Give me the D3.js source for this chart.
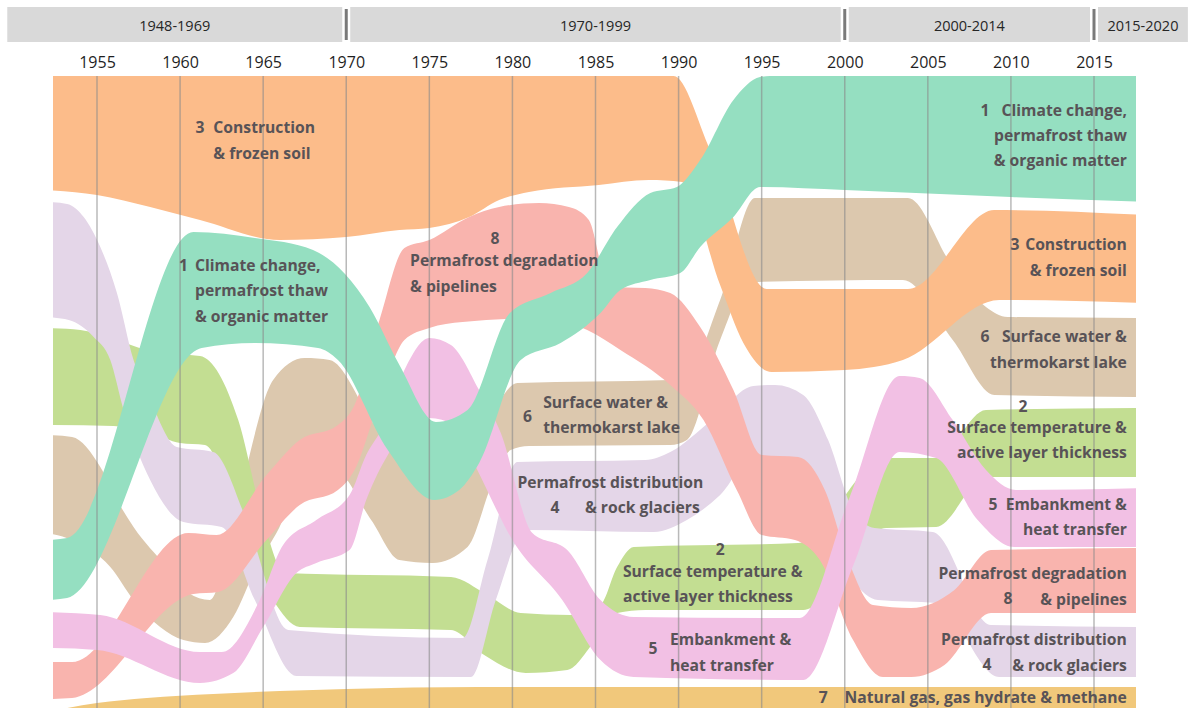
<!DOCTYPE html>
<html>
<head>
<meta charset="utf-8">
<script src="https://cdn.jsdelivr.net/npm/d3@7"></script>
<style>
    body { margin: 0; background: #fff; }
    svg { display: block; font-family: "Open Sans", "Noto Sans", sans-serif; }
</style>
</head>
<body>
<div id="chart"></div>
<script>
// tick years along the top, and the four period bars above them
const tickYears = [1955, 1960, 1965, 1970, 1975, 1980, 1985, 1990, 1995, 2000, 2005, 2010, 2015];
const periodLabels = ["1948-1969", "1970-1999", "2000-2014", "2015-2020"];
const periodBreaks = [1949.6, 1970, 2000, 2015, 2020.65];

// band edges as [year, depth]; depth counts down from the top of the plot
const climateTop = [[1952.0, 464], [1953.2, 462], [1960.8, 156], [1964.5, 162], [1968.0, 174], [1971.4, 231], [1973.2, 289], [1975.4, 346], [1977.3, 334], [1979.85, 237], [1982.3, 217], [1984.5, 197], [1986.3, 151], [1988.3, 117], [1989.9, 111], [1991.3, 84], [1993.3, 24], [1994.9, 1], [1995.5, 0], [2018.2, 0]];
const climateBottom = [[1952.0, 524], [1953.2, 522], [1961.3, 272], [1964.5, 267], [1968.3, 272], [1969.5, 284], [1972.5, 374], [1975.3, 424], [1976.8, 414], [1978.0, 387], [1980.5, 284], [1982.9, 267], [1985.3, 237], [1986.5, 214], [1988.3, 204], [1990.1, 197], [1991.3, 171], [1993.3, 141], [1994.9, 111], [2000, 114], [2010, 121], [2018.2, 126]];

const tempTop = [[1952.0, 252], [1954, 254], [1958.8, 277], [1961.2, 280], [1963.5, 344], [1965, 444], [1966.3, 497], [1976.3, 501], [1978.5, 519], [1980.5, 537], [1983.5, 539], [1985.3, 529], [1986.3, 491], [1987.3, 471], [1997.2, 467], [2002.5, 382], [2005.5, 382], [2008.5, 334], [2018.2, 332]];
const tempBottom = [[1952.0, 349], [1956, 350], [1958.2, 357], [1960, 367], [1961.5, 369], [1963.5, 444], [1965.6, 524], [1967.2, 551], [1976.3, 554], [1978.3, 579], [1980.8, 597], [1983.3, 594], [1985, 564], [1986.3, 537], [1988, 534], [1997.5, 534], [2002.5, 452], [2005.5, 451], [2008.5, 401], [2018.2, 401]];

const constructionTop = [[1952.0, 0], [1989.7, 0], [1991.9, 74], [1995.3, 213], [2003.8, 213], [2009.0, 134], [2018.2, 139]];
const constructionBottom = [[1952.0, 114], [1955, 119], [1958.2, 131], [1961.2, 144], [1966, 164], [1970, 161], [1973.2, 154], [1975, 152], [1977.4, 141], [1979.2, 124], [1981, 116], [1985.2, 109], [1988.2, 104], [1990.2, 106], [1992.5, 209], [1993.9, 267], [1995.6, 296], [2000, 294], [2003.5, 284], [2009.3, 224], [2018.2, 227]];

const distributionTop = [[1952.0, 126], [1953.2, 128], [1954.2, 141], [1955.2, 171], [1956.2, 217], [1957.2, 284], [1958.2, 324], [1959.8, 371], [1962, 376], [1964, 444], [1966.5, 554], [1977, 562], [1978.5, 484], [1980.3, 386], [1988, 384], [1989.5, 376], [1992, 344], [1994.5, 310], [1995.8, 309], [1997.5, 319], [1999, 364], [2000.5, 434], [2001.8, 452], [2005.3, 456], [2008.8, 549], [2018.2, 551]];
const distributionBottom = [[1952.0, 241], [1953.3, 244], [1954.8, 261], [1955.8, 284], [1956.6, 334], [1958.2, 404], [1960.2, 446], [1962.5, 451], [1964.5, 524], [1967, 600], [1977.5, 601], [1979, 524], [1980.8, 454], [1988.5, 456], [1990.5, 444], [1992.5, 419], [1994.5, 381], [1996.5, 382], [1998.5, 424], [2000.5, 504], [2002, 524], [2005.5, 527], [2009.3, 601], [2018.2, 601]];

const embankmentTop = [[1952.0, 536], [1955.2, 539], [1961.2, 576], [1962.5, 576], [1964.8, 524], [1966.2, 469], [1968.2, 444], [1970.2, 419], [1971.2, 379], [1972.2, 351], [1973.5, 294], [1975, 262], [1976.3, 269], [1978, 314], [1979.3, 357], [1981.2, 457], [1983.3, 474], [1985.3, 524], [1987.3, 541], [1997.3, 542], [2000.3, 421], [2003.3, 300], [2004.5, 302], [2006.5, 344], [2008.5, 394], [2010.3, 414], [2018.2, 412]];
const embankmentBottom = [[1952.0, 572], [1955, 574], [1961.2, 607], [1963.2, 597], [1965, 551], [1967, 497], [1968.2, 487], [1970.2, 474], [1971.2, 424], [1972.5, 379], [1975, 342], [1976.5, 349], [1977.8, 391], [1980, 464], [1983, 524], [1985.3, 584], [1987.3, 601], [1997.5, 604], [2000.5, 490], [2003.3, 376], [2005.5, 382], [2008, 444], [2010.2, 471], [2018.2, 471]];

const lakeTop = [[1952.0, 359], [1953.5, 361], [1955.2, 391], [1956.2, 424], [1957.2, 451], [1959.2, 491], [1960.5, 517], [1961.8, 524], [1963.5, 424], [1965.6, 304], [1967.5, 282], [1969, 284], [1971.5, 344], [1973.5, 394], [1975.5, 414], [1978.5, 344], [1980.3, 307], [1989.5, 304], [1990.5, 299], [1992.5, 224], [1994.6, 122], [2003.8, 122], [2006.5, 191], [2008.5, 231], [2009.8, 241], [2018.2, 242]];
const lakeBottom = [[1952.0, 457], [1953.5, 464], [1955.8, 491], [1957.2, 524], [1958.8, 551], [1960.2, 564], [1961.5, 567], [1963.2, 541], [1964.6, 491], [1965.8, 457], [1967.8, 394], [1969.3, 394], [1971.5, 444], [1973.2, 484], [1975.2, 487], [1977.3, 471], [1978.8, 407], [1979.9, 374], [1981, 370], [1989.5, 369], [1990.5, 364], [1992.5, 264], [1994.3, 206], [2003.5, 204], [2006.5, 264], [2009, 319], [2018.2, 321]];

const gasTop = [[1952.0, 636], [1955, 627], [1958, 622], [1962, 618], [1966, 615], [1970, 613], [1978, 611], [2018.2, 611]];
const gasBottom = [[1952.0, 640], [2018.2, 640]];

const degradationTop = [[1952.0, 586], [1953.5, 586], [1960.5, 457], [1962.2, 459], [1965.2, 399], [1967.2, 364], [1969.5, 349], [1970.5, 329], [1972, 244], [1973.5, 172], [1975, 164], [1977.4, 141], [1979.2, 131], [1981.6, 127], [1983.4, 131], [1984.6, 144], [1985.8, 211], [1988, 212], [1989.5, 217], [1991.3, 251], [1993.3, 314], [1995, 379], [1997.2, 381], [1998.8, 414], [2000.2, 484], [2001.7, 529], [2004, 532], [2006.6, 514], [2008.8, 474], [2018.2, 472]];
const degradationBottom = [[1952.0, 623], [1953.5, 622], [1960.8, 518], [1962.3, 516], [1965.2, 464], [1967.2, 429], [1969.5, 414], [1970.5, 394], [1972, 324], [1973.5, 264], [1975, 252], [1977, 246], [1982, 242], [1984.5, 254], [1986.5, 274], [1989.5, 309], [1991.5, 344], [1993.5, 414], [1995, 459], [1997, 464], [1998.5, 484], [2000.5, 564], [2002.3, 601], [2004, 601], [2006, 589], [2008.8, 537], [2018.2, 537]];

// drawn bottom layer first
const topics = [
    {id: 7, color: "#f1c87b", top: gasTop, bottom: gasBottom},
    {id: 6, color: "#dcc8ae", top: lakeTop, bottom: lakeBottom},
    {id: 2, color: "#c3de92", top: tempTop, bottom: tempBottom},
    {id: 4, color: "#e4d6e8", top: distributionTop, bottom: distributionBottom},
    {id: 8, color: "#f9b4ae", top: degradationTop, bottom: degradationBottom},
    {id: 3, color: "#fcbc8a", top: constructionTop, bottom: constructionBottom},
    {id: 5, color: "#f2c0e4", top: embankmentTop, bottom: embankmentBottom},
    {id: 1, color: "#95dfc1", top: climateTop, bottom: climateBottom}
];

// annotation lines: text, year, depth, anchor
const labels = [
    ["3", 1961.2, 51, "middle"], ["Construction", 1962.0, 51, "start"], ["& frozen soil", 1962.0, 77, "start"],
    ["1", 1960.2, 189, "middle"], ["Climate change,", 1960.9, 189, "start"], ["permafrost thaw", 1960.9, 214, "start"], ["& organic matter", 1960.9, 240, "start"],
    ["8", 1978.95, 162, "middle"], ["Permafrost degradation", 1973.84, 184, "start"], ["& pipelines", 1973.84, 210, "start"],
    ["6", 1980.9, 340, "middle"], ["Surface water &", 1981.85, 326, "start"], ["thermokarst lake", 1981.85, 351, "start"],
    ["Permafrost distribution", 1980.3, 406, "start"], ["4", 1982.56, 431, "middle"], ["& rock glaciers", 1984.37, 431, "start"],
    ["2", 1992.5, 473, "middle"], ["Surface temperature &", 1986.65, 495, "start"], ["active layer thickness", 1986.65, 520, "start"],
    ["5", 1988.46, 572, "middle"], ["Embankment &", 1989.48, 563, "start"], ["heat transfer", 1989.48, 589, "start"],

    ["1", 2008.44, 34, "middle"], ["Climate change,", 2016.98, 34, "end"], ["permafrost thaw", 2016.98, 59, "end"], ["& organic matter", 2016.98, 84, "end"],
    ["3", 2010.24, 168, "middle"], ["Construction", 2016.98, 168, "end"], ["& frozen soil", 2016.98, 194, "end"],
    ["6", 2008.44, 260, "middle"], ["Surface water &", 2016.98, 260, "end"], ["thermokarst lake", 2016.98, 286, "end"],
    ["2", 2010.73, 330, "middle"], ["Surface temperature &", 2016.98, 351, "end"], ["active layer thickness", 2016.98, 376, "end"],
    ["5", 2008.92, 428, "middle"], ["Embankment &", 2016.98, 428, "end"], ["heat transfer", 2016.98, 453, "end"],
    ["Permafrost degradation", 2016.98, 497, "end"], ["8", 2009.82, 522, "middle"], ["& pipelines", 2016.98, 523, "end"],
    ["Permafrost distribution", 2016.98, 563, "end"], ["4", 2008.56, 588, "middle"], ["& rock glaciers", 2016.98, 589, "end"],
    ["7", 1998.7, 621, "middle"], ["Natural gas, gas hydrate & methane", 2016.98, 621, "end"]
];

class BumpChart {

    width = 1190;
    height = 708;
    plot = {left: 53, right: 1136, top: 76, bottom: 708};

    svg; x; y;

    constructor(container) {
        this.container = container;
    }

    draw() {
        this._setSvg();
        this._setScales();
        this._drawHeader();
        this._drawTicks();
        this._drawBands();
        this._drawGrid();
        this._drawLabels();
    }

    _setSvg() {
        this.svg = d3.select(this.container)
            .append("svg")
            .attr("width", this.width)
            .attr("height", this.height);

        this.svg.append("defs").append("clipPath")
            .attr("id", "plot-clip")
            .append("rect")
            .attr("x", this.plot.left)
            .attr("y", this.plot.top)
            .attr("width", this.plot.right - this.plot.left)
            .attr("height", this.plot.bottom - this.plot.top);
    }

    _setScales() {
        this.x = d3.scaleLinear().domain([1955, 2015]).range([97, 1094]);
        this.y = d3.scaleLinear().domain([0, 632]).range([this.plot.top, this.plot.bottom]);
    }

    _drawHeader() {
        let x = this.x;
        let header = this.svg.append("g").attr("id", "periods");
        let last = periodLabels.length - 1;

        periodLabels.forEach((label, i) => {
            let x0 = i === 0 ? x(periodBreaks[i]) : x(periodBreaks[i]) + 4;
            let x1 = i === last ? x(periodBreaks[i + 1]) : x(periodBreaks[i + 1]) - 4;

            header.append("rect")
                .attr("x", x0).attr("y", 7)
                .attr("width", x1 - x0).attr("height", 35)
                .attr("fill", "#d9d9d9");

            header.append("text")
                .attr("x", (x0 + x1) / 2).attr("y", 25)
                .attr("text-anchor", "middle")
                .attr("dominant-baseline", "central")
                .attr("font-size", 14.5)
                .attr("fill", "#262626")
                .text(label);

            if (i > 0) {
                header.append("line")
                    .attr("x1", x(periodBreaks[i])).attr("x2", x(periodBreaks[i]))
                    .attr("y1", 9).attr("y2", 40)
                    .attr("stroke", "#7a7a7a")
                    .attr("stroke-width", 3);
            }
        });
    }

    _drawTicks() {
        let axis = this.svg.append("g")
            .attr("id", "x")
            .attr("transform", "translate(0," + this.plot.top + ")")
            .call(d3.axisTop(this.x)
                .tickValues(tickYears)
                .tickFormat(d3.format("d"))
                .tickSize(0)
                .tickPadding(8));

        axis.select(".domain").remove();
        axis.selectAll("text")
            .attr("font-size", 16)
            .attr("font-family", "\"Open Sans\", sans-serif")
            .attr("fill", "#1f1f1f");
    }

    _bandPath(t) {
        let line = d3.line()
            .x(d => this.x(d[0]))
            .y(d => this.y(d[1]))
            .curve(d3.curveMonotoneX);

        let upper = line(t.top);
        let lower = line(t.bottom.slice().reverse());
        return upper + "L" + lower.slice(1) + "Z";
    }

    _drawBands() {
        this.svg.append("g")
            .attr("id", "bands")
            .attr("clip-path", "url(#plot-clip)")
            .selectAll("path")
            .data(topics)
            .enter()
            .append("path")
            .attr("d", d => this._bandPath(d))
            .attr("fill", d => d.color);
    }

    _drawGrid() {
        this.svg.append("g")
            .attr("id", "grid")
            .selectAll("line")
            .data(tickYears)
            .enter()
            .append("line")
            .attr("x1", d => this.x(d)).attr("x2", d => this.x(d))
            .attr("y1", this.plot.top).attr("y2", this.plot.bottom)
            .attr("stroke", "#8a8a8a")
            .attr("stroke-opacity", 0.6)
            .attr("stroke-width", 1.5);
    }

    _drawLabels() {
        this.svg.append("g")
            .attr("id", "labels")
            .selectAll("text")
            .data(labels)
            .enter()
            .append("text")
            .attr("x", d => this.x(d[1]))
            .attr("y", d => this.y(d[2]))
            .attr("text-anchor", d => d[3])
            .attr("dominant-baseline", "central")
            .attr("font-size", 15.7)
            .attr("font-weight", "bold")
            .attr("fill", "#585357")
            .text(d => d[0]);
    }
}

let chart = new BumpChart("#chart");
chart.draw();
</script>
</body>
</html>
